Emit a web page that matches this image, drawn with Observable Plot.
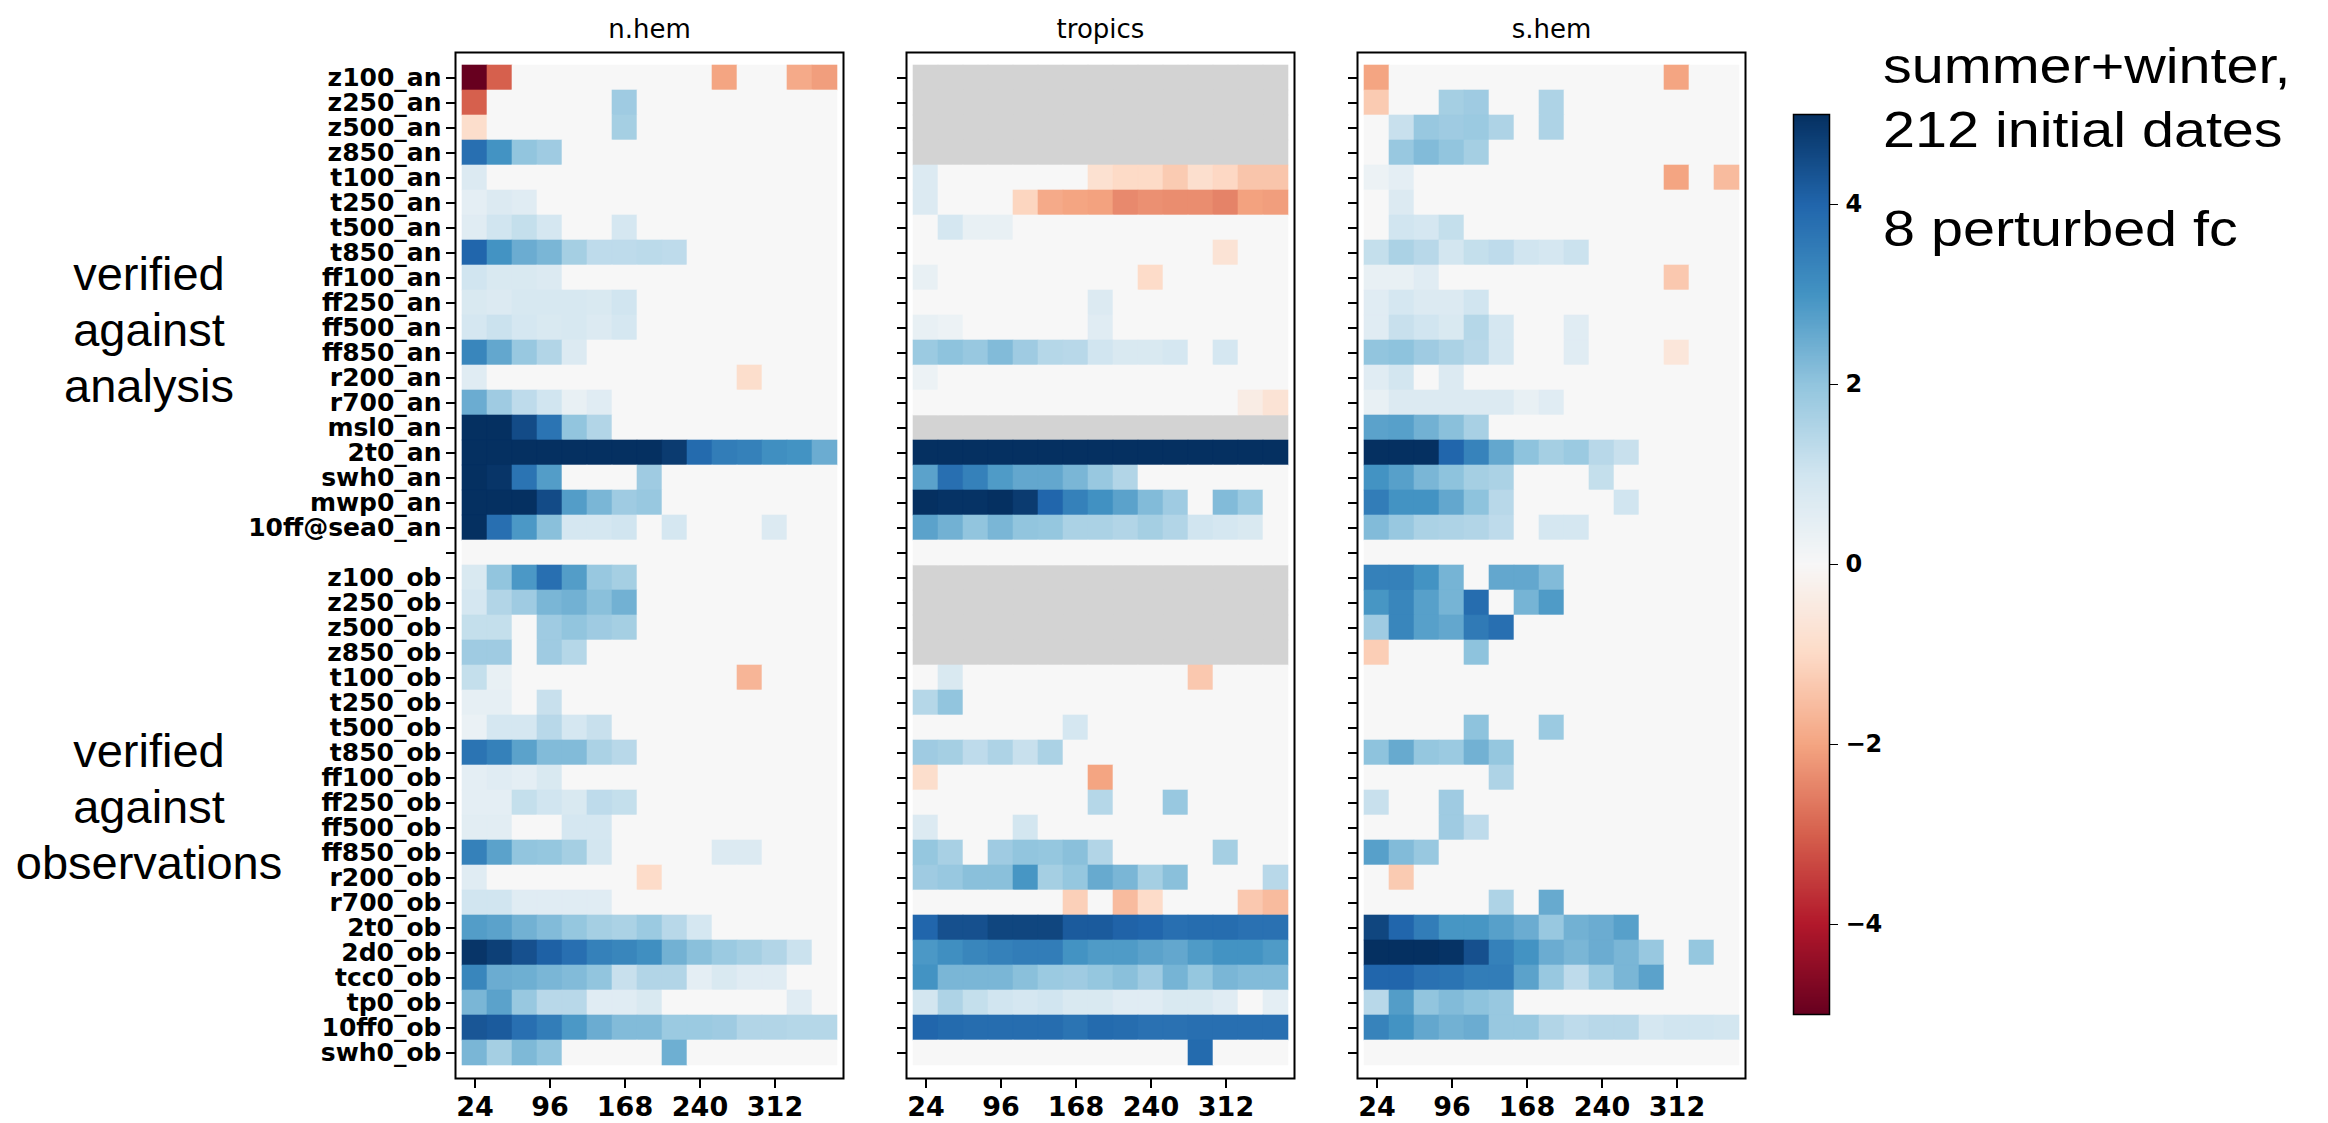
<!DOCTYPE html>
<html>
<head>
<meta charset="utf-8">
<script src="https://cdn.jsdelivr.net/npm/d3@7"></script>
<script src="https://cdn.jsdelivr.net/npm/@observablehq/plot@0.6"></script>
<style>
  html, body { margin: 0; padding: 0; background: #fff; overflow: hidden; }
  #wrap { position: relative; width: 2328px; height: 1123px; }
  .grp { position: absolute; left: 0; width: 298px; text-align: center; font-family: "Liberation Sans", Arial, sans-serif; font-size: 47px; line-height: 56px; color: #000; }
  .note { position: absolute; left: 1883px; font-family: "Liberation Sans", Arial, sans-serif; font-size: 50px; line-height: 56px; color: #000; white-space: nowrap; transform: scaleX(1.15); transform-origin: 0 0; }
</style>
</head>
<body>
<div id="wrap">
  <div id="chart" style="position:absolute;left:0;top:0"></div>
  <div id="cbar" style="position:absolute;left:1761px;top:0"></div>
  <div class="grp" style="top:246px">verified<br>against<br>analysis</div>
  <div class="grp" style="top:723px">verified<br>against<br>observations</div>
  <div class="note" style="top:38px">summer+winter,</div>
  <div class="note" style="top:102px">212 initial dates</div>
  <div class="note" style="top:201px">8 perturbed fc</div>
</div>
<script>
const regions = ["n.hem", "tropics", "s.hem"];
const leadTimes = [24, 48, 72, 96, 120, 144, 168, 192, 216, 240, 264, 288, 312, 336, 360];
const leadTicks = [24, 96, 168, 240, 312];
const cbTicks = [-4, -2, 0, 2, 4];
const rdbuStops = [-5, -4, -3, -2, -1, 0, 1, 2, 3, 4, 5];
const rdbuColors = ["#67001f","#b2182b","#d6604d","#f4a582","#fddbc7","#f7f7f7","#d1e5f0","#92c5de","#4393c3","#2166ac","#053061"];
const variables = [
  "z100_an","z250_an","z500_an","z850_an","t100_an","t250_an","t500_an","t850_an",
  "ff100_an","ff250_an","ff500_an","ff850_an","r200_an","r700_an","msl0_an","2t0_an",
  "swh0_an","mwp0_an","10ff@sea0_an","",
  "z100_ob","z250_ob","z500_ob","z850_ob","t100_ob","t250_ob","t500_ob","t850_ob",
  "ff100_ob","ff250_ob","ff500_ob","ff850_ob","r200_ob","r700_ob","2t0_ob","2d0_ob",
  "tcc0_ob","tp0_ob","10ff0_ob","swh0_ob"
];
const N = null;

const nhem = [
  [-5,-3,0,0,0,0,0,0,0,0,-2,0,0,-1.9,-2.1],
  [-3,0,0,0,0,0,1.8,0,0,0,0,0,0,0,0],
  [-0.9,0,0,0,0,0,1.7,0,0,0,0,0,0,0,0],
  [3.8,3.0,2.0,1.8,0,0,0,0,0,0,0,0,0,0,0],
  [0.7,0,0,0,0,0,0,0,0,0,0,0,0,0,0],
  [0.5,0.7,0.6,0,0,0,0,0,0,0,0,0,0,0,0],
  [0.6,1.0,1.2,0.9,0,0,0.9,0,0,0,0,0,0,0,0],
  [4.0,3.0,2.5,2.3,1.7,1.3,1.3,1.35,1.3,0,0,0,0,0,0],
  [1.0,0.8,0.8,0.7,0,0,0,0,0,0,0,0,0,0,0],
  [0.8,0.7,0.85,0.85,0.85,0.8,1.0,0,0,0,0,0,0,0,0],
  [0.9,1.1,0.9,0.8,0.85,0.7,0.9,0,0,0,0,0,0,0,0],
  [3.3,2.6,1.9,1.5,0.7,0,0,0,0,0,0,0,0,0,0],
  [0.6,0,0,0,0,0,0,0,0,0,0,-0.9,0,0,0],
  [2.5,1.8,1.3,1.0,0.4,0.6,0,0,0,0,0,0,0,0,0],
  [5,5,4.5,3.7,2.0,1.5,0,0,0,0,0,0,0,0,0],
  [5,5,5,5,5,5,5,5,4.8,3.9,3.5,3.4,3.1,3.0,2.5],
  [5,4.9,3.7,2.8,0,0,0,1.8,0,0,0,0,0,0,0],
  [5,5,5,4.5,2.8,2.3,1.8,1.9,0,0,0,0,0,0,0],
  [5,3.8,2.9,2.1,0.9,0.9,1.0,0,0.9,0,0,0,0.7,0,0],
  [0,0,0,0,0,0,0,0,0,0,0,0,0,0,0],
  [0.8,2.0,2.9,3.8,2.8,1.9,1.7,0,0,0,0,0,0,0,0],
  [0.9,1.5,1.8,2.3,2.4,2.1,2.4,0,0,0,0,0,0,0,0],
  [1.2,1.2,0,1.8,2.0,1.8,1.7,0,0,0,0,0,0,0,0],
  [1.8,1.8,0,1.8,1.45,0,0,0,0,0,0,0,0,0,0],
  [1.2,0.4,0,0,0,0,0,0,0,0,0,-1.7,0,0,0],
  [0.45,0.45,0,1.15,0,0,0,0,0,0,0,0,0,0,0],
  [0.35,0.9,0.9,1.4,0.9,1.15,0,0,0,0,0,0,0,0,0],
  [3.7,3.4,2.7,2.2,2.2,1.6,1.4,0,0,0,0,0,0,0,0],
  [0.5,0.6,0.5,0.8,0,0,0,0,0,0,0,0,0,0,0],
  [0.5,0.5,1.2,1.0,0.8,1.3,1.2,0,0,0,0,0,0,0,0],
  [0.55,0.55,0,0,0.9,0.9,0,0,0,0,0,0,0,0,0],
  [3.4,2.7,2.0,1.95,1.7,0.95,0,0,0,0,0.7,0.7,0,0,0],
  [0.6,0,0,0,0,0,0,-0.95,0,0,0,0,0,0,0],
  [1.0,1.0,0.6,0.6,0.6,0.6,0,0,0,0,0,0,0,0,0],
  [2.8,2.7,2.4,2.2,1.95,1.7,1.6,1.85,1.4,0.9,0,0,0,0,0],
  [4.9,4.7,4.4,4.1,3.8,3.4,3.3,3.1,2.4,2.1,1.85,1.7,1.5,1.1,0],
  [3.3,2.5,2.45,2.3,2.2,2.0,1.15,1.5,1.5,0.5,0.8,0.6,0.6,0,0],
  [2.3,2.7,1.9,1.4,1.4,0.6,0.6,0.8,0,0,0,0,0,0.6,0],
  [4.3,4.2,3.8,3.5,2.9,2.5,2.2,2.2,1.85,1.85,1.8,1.5,1.5,1.45,1.45],
  [2.3,1.7,2.25,2.0,0,0,0,0,2.45,0,0,0,0,0,0]
];

const tropics = [
  [N,N,N,N,N,N,N,N,N,N,N,N,N,N,N],
  [N,N,N,N,N,N,N,N,N,N,N,N,N,N,N],
  [N,N,N,N,N,N,N,N,N,N,N,N,N,N,N],
  [N,N,N,N,N,N,N,N,N,N,N,N,N,N,N],
  [0.7,0,0,0,0,0,0,-0.8,-1.0,-1.0,-1.3,-0.85,-1.05,-1.4,-1.4],
  [0.7,0,0,0,-1.1,-1.9,-2.0,-2.05,-2.4,-2.3,-2.35,-2.35,-2.5,-2.05,-2.1],
  [0,0.9,0.4,0.4,0,0,0,0,0,0,0,0,0,0,0],
  [0,0,0,0,0,0,0,0,0,0,0,0,-0.7,0,0],
  [0.4,0,0,0,0,0,0,0,0,-0.95,0,0,0,0,0],
  [0,0,0,0,0,0,0,0.7,0,0,0,0,0,0,0],
  [0.4,0.3,0,0,0,0,0,0.6,0,0,0,0,0,0,0],
  [1.85,2.05,1.9,2.2,1.8,1.45,1.4,1.0,0.8,0.8,0.9,0,0.9,0,0],
  [0.3,0,0,0,0,0,0,0,0,0,0,0,0,0,0],
  [0,0,0,0,0,0,0,0,0,0,0,0,0,-0.4,-0.7],
  [N,N,N,N,N,N,N,N,N,N,N,N,N,N,N],
  [5,5,5,5,5,5,5,5,5,5,5,5,5,5,5],
  [2.7,3.8,3.4,2.85,2.6,2.6,2.3,1.9,1.5,0,0,0,0,0,0],
  [5,4.95,4.95,5,4.8,4.0,3.4,3.05,2.7,2.2,1.8,0,2.2,1.85,0],
  [2.7,2.4,2.0,2.3,2.0,1.95,1.6,1.6,1.5,1.7,1.5,1.0,0.9,0.8,0],
  [0,0,0,0,0,0,0,0,0,0,0,0,0,0,0],
  [N,N,N,N,N,N,N,N,N,N,N,N,N,N,N],
  [N,N,N,N,N,N,N,N,N,N,N,N,N,N,N],
  [N,N,N,N,N,N,N,N,N,N,N,N,N,N,N],
  [N,N,N,N,N,N,N,N,N,N,N,N,N,N,N],
  [0,0.8,0,0,0,0,0,0,0,0,0,-1.35,0,0,0],
  [1.45,2.0,0,0,0,0,0,0,0,0,0,0,0,0,0],
  [0,0,0,0,0,0,0.9,0,0,0,0,0,0,0,0],
  [1.8,1.7,1.3,1.55,1.15,1.6,0,0,0,0,0,0,0,0,0],
  [-0.9,0,0,0,0,0,0,-2.0,0,0,0,0,0,0,0],
  [0,0,0,0,0,0,0,1.45,0,0,1.9,0,0,0,0],
  [0.7,0,0,0,0.95,0,0,0,0,0,0,0,0,0,0],
  [1.95,1.65,0,1.8,2.0,1.95,2.1,1.5,0,0,0,0,1.7,0,0],
  [1.8,1.9,2.1,2.1,2.95,1.7,1.95,2.55,2.3,1.7,2.1,0,0,0,1.4],
  [0,0,0,0,0,0,-1.2,0,-1.6,-0.95,0,0,0,-1.35,-1.6],
  [4.0,4.4,4.4,4.6,4.6,4.6,4.2,4.2,4.05,4.0,3.8,3.85,3.85,3.75,3.75],
  [2.9,3.1,3.3,3.4,3.5,3.5,3.0,2.85,2.85,2.7,2.6,2.85,3.0,3.0,2.85],
  [3.0,2.3,2.3,2.3,2.1,1.85,1.8,1.95,2.1,1.8,2.35,1.95,2.3,2.2,2.2],
  [0.95,1.55,1.2,1.0,0.9,1.0,0.8,0.8,0.6,0.6,0.8,0.8,0.6,0,0.5],
  [4.0,3.9,3.85,3.85,3.85,3.85,3.7,3.9,3.85,3.75,3.75,3.8,3.8,3.8,3.8],
  [0,0,0,0,0,0,0,0,0,0,0,3.9,0,0,0]
];

const shem = [
  [-2.0,0,0,0,0,0,0,0,0,0,0,0,-2.0,0,0],
  [-1.3,0,0,1.7,1.8,0,0,1.55,0,0,0,0,0,0,0],
  [0,1.15,1.9,1.8,1.85,1.55,0,1.55,0,0,0,0,0,0,0],
  [0,1.9,2.2,2.0,1.7,0,0,0,0,0,0,0,0,0,0],
  [0.3,0.5,0,0,0,0,0,0,0,0,0,0,-2.0,0,-1.6],
  [0,0.7,0,0,0,0,0,0,0,0,0,0,0,0,0],
  [0,1.0,0.9,1.2,0,0,0,0,0,0,0,0,0,0,0],
  [1.2,1.6,1.4,0.95,1.2,1.3,1.0,0.9,1.1,0,0,0,0,0,0],
  [0.4,0.4,0.6,0,0,0,0,0,0,0,0,0,-1.35,0,0],
  [0.6,0.9,0.7,0.7,1.0,0,0,0,0,0,0,0,0,0,0],
  [0.6,1.15,1.0,0.8,1.45,0.9,0,0,0.6,0,0,0,0,0,0],
  [2.0,2.05,1.8,1.6,1.4,0.9,0,0,0.6,0,0,0,-0.6,0,0],
  [0.6,0.95,0,0.7,0,0,0,0,0,0,0,0,0,0,0],
  [0.4,0.7,0.7,0.7,0.7,0.7,0.4,0.6,0,0,0,0,0,0,0],
  [2.7,2.75,2.4,2.1,1.65,0,0,0,0,0,0,0,0,0,0],
  [5,5,5,4.0,3.35,2.6,2.05,1.7,1.85,1.4,1.15,0,0,0,0],
  [3.0,2.75,2.3,2.05,1.7,1.6,0,0,0,1.2,0,0,0,0,0],
  [3.5,3.0,3.0,2.6,2.05,1.4,0,0,0,0,1.0,0,0,0,0],
  [2.2,1.9,1.6,1.55,1.5,1.3,0,0.9,0.9,0,0,0,0,0,0],
  [0,0,0,0,0,0,0,0,0,0,0,0,0,0,0],
  [3.4,3.4,3.0,2.35,0,2.6,2.6,2.2,0,0,0,0,0,0,0],
  [2.95,3.3,2.75,2.35,3.85,0,2.35,2.85,0,0,0,0,0,0,0],
  [1.8,3.3,2.75,2.6,3.55,3.8,0,0,0,0,0,0,0,0,0],
  [-1.25,0,0,0,2.05,0,0,0,0,0,0,0,0,0,0],
  [0,0,0,0,0,0,0,0,0,0,0,0,0,0,0],
  [0,0,0,0,0,0,0,0,0,0,0,0,0,0,0],
  [0,0,0,0,2.05,0,0,1.85,0,0,0,0,0,0,0],
  [2.05,2.55,1.95,1.85,2.4,1.95,0,0,0,0,0,0,0,0,0],
  [0,0,0,0,0,1.55,0,0,0,0,0,0,0,0,0],
  [1.15,0,0,1.8,0,0,0,0,0,0,0,0,0,0,0],
  [0,0,0,1.8,1.3,0,0,0,0,0,0,0,0,0,0],
  [2.75,2.2,1.9,0,0,0,0,0,0,0,0,0,0,0,0],
  [0,-1.3,0,0,0,0,0,0,0,0,0,0,0,0,0],
  [0,0,0,0,0,1.55,0,2.55,0,0,0,0,0,0,0],
  [4.6,4.0,3.5,2.95,2.95,2.75,2.5,1.9,2.4,2.5,2.75,0,0,0,0],
  [5,5,5,4.95,4.4,3.4,3.0,2.5,2.3,2.5,2.3,1.9,0,1.95,0],
  [4.0,4.0,3.75,3.7,3.5,3.5,2.7,1.9,1.3,1.85,2.3,2.7,0,0,0],
  [1.4,2.8,2.0,2.2,2.05,1.9,0,0,0,0,0,0,0,0,0],
  [3.35,3.0,2.6,2.4,2.5,1.9,1.9,1.5,1.3,1.4,1.4,0.9,1.0,1.0,0.95],
  [0,0,0,0,0,0,0,0,0,0,0,0,0,0,0]
];

const matrices = {"n.hem": nhem, "tropics": tropics, "s.hem": shem};
const cells = [];
for (const region of regions) {
  matrices[region].forEach((row, i) => {
    row.forEach((v, j) => {
      cells.push({region, variable: variables[i], lead: leadTimes[j], value: v});
    });
  });
}
const missing = cells.filter(d => d.value == null);
const present = cells.filter(d => d.value != null);

const minusFmt = d => d < 0 ? "\u2212" + Math.abs(d) : String(d);
const colorScale = {type: "linear", domain: rdbuStops, range: rdbuColors, interpolate: "rgb"};

const chart = Plot.plot({
  width: 1780,
  height: 1123,
  marginLeft: 454,
  marginRight: 34,
  marginTop: 52,
  marginBottom: 45,
  style: {fontFamily: "DejaVu Sans", color: "black", background: "white"},
  fx: {domain: regions, padding: 0.14, label: null},
  x: {domain: leadTimes, padding: 0, label: null},
  y: {domain: variables, padding: 0, label: null},
  color: colorScale,
  marks: [
    Plot.cell(missing, {fx: "region", x: "lead", y: "variable", fill: "#d3d3d3", stroke: "#d3d3d3", strokeWidth: 0.6, inset: 0}),
    Plot.cell(present, {fx: "region", x: "lead", y: "variable", fill: "value", stroke: "value", strokeWidth: 0.6, inset: 0}),
    Plot.frame({stroke: "black", strokeWidth: 2}),
    Plot.axisFx({anchor: "top", tickSize: 0, tickPadding: 15, fontSize: 26, label: null}),
    Plot.axisX({ticks: leadTicks, tickSize: 10, tickPadding: 8, fontSize: 27, fontWeight: "bold", strokeWidth: 2, label: null}),
    Plot.axisY({facetAnchor: null, tickSize: 9, tickFormat: () => "", strokeWidth: 2, label: null}),
    Plot.axisY({facetAnchor: "left", tickSize: 9, tickPadding: 5, fontSize: 25, fontWeight: "bold", strokeWidth: 2, label: null})
  ]
});
document.getElementById("chart").append(chart);

const cbar = Plot.plot({
  width: 130,
  height: 1123,
  marginLeft: 32,
  marginRight: 62,
  marginTop: 114,
  marginBottom: 109,
  style: {fontFamily: "DejaVu Sans", color: "black", background: "white"},
  x: {domain: [0, 1], axis: null},
  y: {domain: [-5, 5], label: null},
  color: colorScale,
  marks: [
    Plot.raster({fill: (x, y) => y, x1: 0, x2: 1, y1: -5, y2: 5, width: 2, height: 500}),
    Plot.frame({stroke: "black", strokeWidth: 1.5}),
    Plot.axisY({anchor: "right", ticks: cbTicks, tickFormat: minusFmt, tickSize: 8, tickPadding: 8, fontSize: 24, fontWeight: "bold", label: null})
  ]
});
document.getElementById("cbar").append(cbar);
</script>
</body>
</html>
